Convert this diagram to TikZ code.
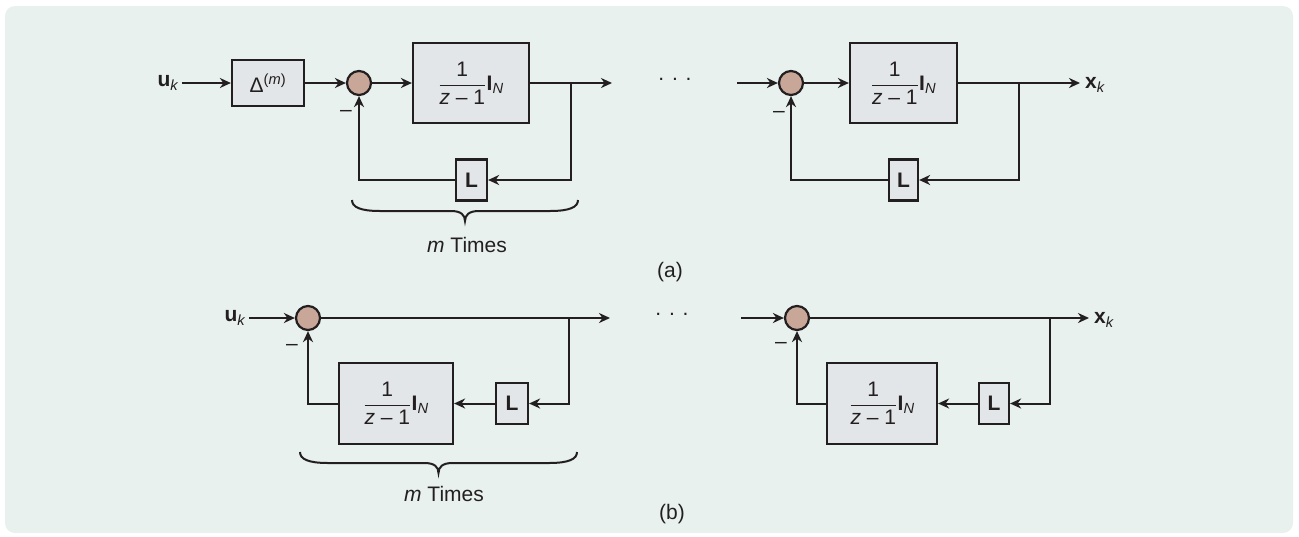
\documentclass[tikz,border=0pt]{standalone}
\usepackage{fontspec}
\usepackage{amsmath}
\setmainfont{Liberation Sans}
\usetikzlibrary{arrows.meta}
\definecolor{bgc}{RGB}{232,241,238}
\definecolor{boxc}{RGB}{227,230,232}
\definecolor{sumc}{RGB}{200,166,152}
\definecolor{ink}{RGB}{35,31,32}
\newcommand{\tfblk}{$\dfrac{\text{1}}{\text{\itshape z}\text{ – 1}}$\hspace{0.5pt}\textbf{I}\textsubscript{\itshape N}}
\newcommand{\ukl}{\textbf{u}\textsubscript{\itshape k}}
\newcommand{\xkl}{\textbf{x}\textsubscript{\itshape k}}
% brace from x=#1 to x=#2, top at y=#3 (y grows downward)
\newcommand{\mybrace}[3]{%
  \draw[brc] (#1,#3) .. controls (#1,{#3+7}) and ({#1+8},{#3+11}) .. ({#1+28},{#3+11})
    -- ({(#1+#2)/2-14},{#3+11}) .. controls ({(#1+#2)/2-4},{#3+11}) and ({(#1+#2)/2},{#3+15}) .. ({(#1+#2)/2},{#3+21})
    .. controls ({(#1+#2)/2},{#3+15}) and ({(#1+#2)/2+4},{#3+11}) .. ({(#1+#2)/2+14},{#3+11})
    -- ({#2-28},{#3+11}) .. controls ({#2-8},{#3+11}) and (#2,{#3+7}) .. (#2,#3);}
\begin{document}
\begin{tikzpicture}[x=1pt,y=-1pt,
  every node/.style={font=\fontsize{21}{25}\selectfont, text=ink},
  blk/.style={draw=ink, line width=2.2pt, fill=boxc, inner sep=0pt},
  sumnode/.style={circle, draw=ink, line width=2.2pt, fill=sumc, minimum size=24pt, inner sep=0pt},
  wire/.style={draw=ink, line width=2pt},
  arr/.style={wire, -{Stealth[length=11pt,width=10pt,inset=3.5pt]}},
  brc/.style={draw=ink, line width=2pt}
]
\useasboundingbox (0,0) rectangle (1299,536);
\fill[bgc, rounded corners=10pt] (5,6) rectangle (1293,533);

% ---------- (a) ----------
\node (uk1) at (168,83) {\ukl};
\node[blk, minimum width=72pt, minimum height=46pt] (d1) at (268,83) {Δ\textsuperscript{(\itshape m\upshape)}};
\node[sumnode] (s1) at (359,83) {};
\node[blk, minimum width=116pt, minimum height=80pt] (g1) at (471,83) {\tfblk};
\coordinate (b1) at (571,83);
\coordinate (o1) at (612,83);
\node[blk, minimum width=31pt, minimum height=41pt] (L1) at (471.5,180) {\textbf{L}};
\coordinate (c1) at (571,180);
\coordinate (e1) at (359,180);
\node (m1) at (346,113) {–};

\draw[arr] (uk1.east) -- (d1.west);
\draw[arr] (d1) -- (s1);
\draw[arr] (s1) -- (g1);
\draw[arr] (g1.east) -- (o1);
\draw[arr] (b1) -- (c1) -- (L1.east);
\draw[arr] (L1.west) -- (e1) -- (s1.south);

\mybrace{352}{578}{200}
\node (t1) at (467,245) {\itshape m\upshape\ Times};

\node (dots1) at (675,79) {. . .};
\coordinate (in2) at (737,83);
\node[sumnode] (s2) at (791,83) {};
\node[blk, minimum width=107pt, minimum height=80pt] (g2) at (903.5,83) {\tfblk};
\coordinate (b2) at (1019,83);
\node[anchor=west, inner sep=0pt] (xk1) at (1085,85) {\xkl};
\coordinate (o2) at (1080,83);
\node[blk, minimum width=29pt, minimum height=41pt] (L2) at (903.5,180) {\textbf{L}};
\coordinate (c2) at (1019,180);
\coordinate (e2) at (791,180);
\node (m2) at (779,114) {–};

\draw[arr] (in2) -- (s2);
\draw[arr] (s2) -- (g2);
\draw[arr] (g2.east) -- (o2);
\draw[arr] (b2) -- (c2) -- (L2.east);
\draw[arr] (L2.west) -- (e2) -- (s2.south);

\node (la) at (670,272) {(a)};

% ---------- (b) ----------
\node (uk2) at (235,318) {\ukl};
\node[sumnode] (s3) at (308,318) {};
\coordinate (b3) at (569,318);
\coordinate (o3) at (610,318);
\node[blk, minimum width=114pt, minimum height=81pt] (g3) at (396,403.5) {\tfblk};
\node[blk, minimum width=32pt, minimum height=41pt] (L3) at (512,403.5) {\textbf{L}};
\coordinate (c3) at (569,403.5);
\coordinate (e3) at (308,403.5);
\node (m3) at (292,347) {–};

\draw[arr] (uk2.east) -- (s3);
\draw[arr] (s3) -- (o3);
\draw[arr] (b3) -- (c3) -- (L3.east);
\draw[arr] (L3.west) -- (g3.east);
\draw[arr] (g3.west) -- (e3) -- (s3.south);

\mybrace{300}{577}{452}
\node (t2) at (444,494) {\itshape m\upshape\ Times};

\node (dots2) at (672,314) {. . .};
\coordinate (in4) at (741,318);
\node[sumnode] (s4) at (797,318) {};
\coordinate (b4) at (1050,318);
\node[anchor=west, inner sep=0pt] (xk2) at (1094,320) {\xkl};
\coordinate (o4) at (1089,318);
\node[blk, minimum width=110pt, minimum height=81pt] (g4) at (882,403.5) {\tfblk};
\node[blk, minimum width=30pt, minimum height=41pt] (L4) at (994,403.5) {\textbf{L}};
\coordinate (c4) at (1050,403.5);
\coordinate (e4) at (797,403.5);
\node (m4) at (781,345) {–};

\draw[arr] (in4) -- (s4);
\draw[arr] (s4) -- (o4);
\draw[arr] (b4) -- (c4) -- (L4.east);
\draw[arr] (L4.west) -- (g4.east);
\draw[arr] (g4.west) -- (e4) -- (s4.south);

\node (lb) at (672,514) {(b)};
\end{tikzpicture}
\end{document}
